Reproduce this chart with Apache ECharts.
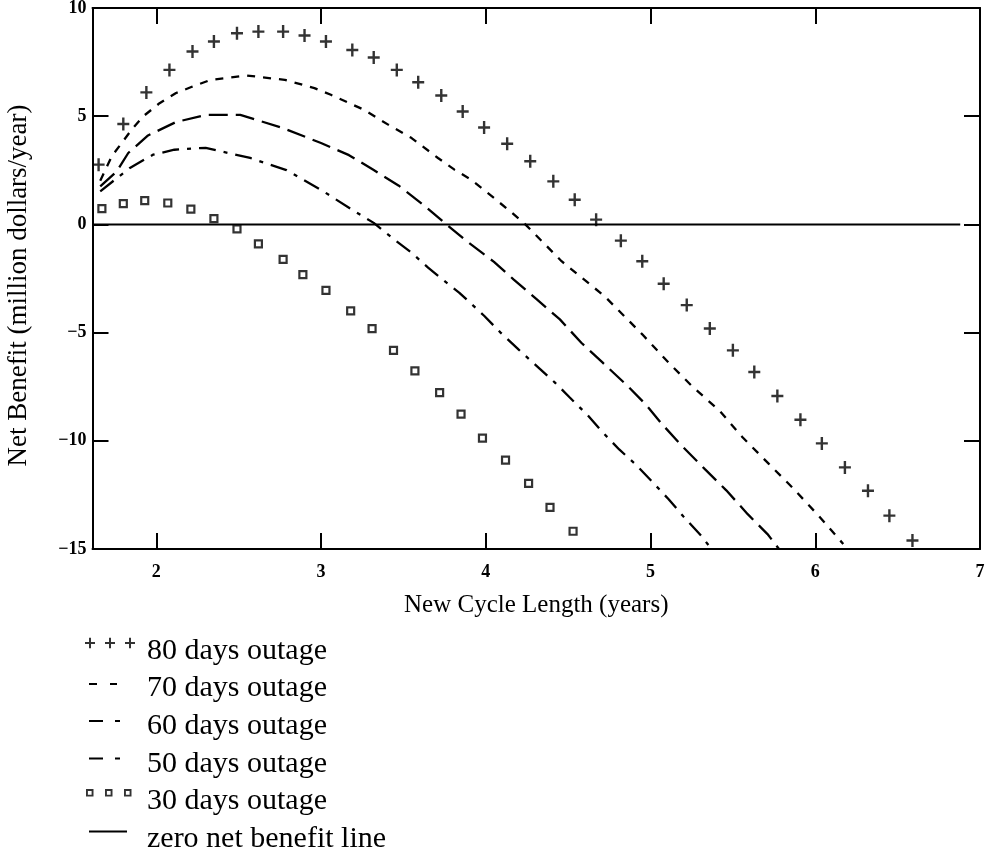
<!DOCTYPE html>
<html>
<head>
<meta charset="utf-8">
<script src="https://cdn.jsdelivr.net/npm/echarts@6/dist/echarts.min.js"></script>
<style>
html,body{margin:0;padding:0;background:#fff;}
#chart{width:985px;height:850px;}
</style>
</head>
<body>
<div id="chart"></div>
<script>
// ---- data ----
const xTickValues = [2, 3, 4, 5, 6, 7];
const yTickStep = 5;

const x80 = [1.65,1.80,1.94,2.08,2.22,2.35,2.49,2.62,2.77,2.90,3.03,3.19,3.32,3.46,3.59,3.73,3.86,3.99,4.13,4.27,4.41,4.54,4.67,4.82,4.95,5.08,5.22,5.36,5.50,5.63,5.77,5.91,6.04,6.18,6.32,6.45,6.59];
const y80 = [2.76,4.64,6.10,7.14,7.99,8.45,8.83,8.91,8.91,8.73,8.45,8.06,7.71,7.14,6.57,5.96,5.22,4.48,3.73,2.92,1.99,1.14,0.22,-0.75,-1.70,-2.74,-3.73,-4.81,-5.82,-6.82,-7.93,-9.03,-10.12,-11.23,-12.31,-13.46,-14.61];

const x70 = [1.66,1.73,1.79,1.85,1.92,2.02,2.12,2.22,2.33,2.55,2.78,2.96,3.06,3.26,3.41,3.55,3.71,3.81,3.91,4.05,4.16,4.24,4.34,4.46,4.56,4.72,4.95,5.11,5.25,5.42,5.56,5.72,5.86,6.02,6.17];
const y70 = [2.02,3.15,3.76,4.37,4.99,5.60,6.07,6.37,6.68,6.88,6.68,6.30,5.99,5.30,4.60,3.99,3.07,2.53,2.07,1.22,0.53,0.00,-0.77,-1.70,-2.32,-3.31,-5.08,-6.39,-7.46,-8.62,-9.85,-11.08,-12.15,-13.46,-14.77];

const x60 = [1.66,1.76,1.83,1.95,2.12,2.30,2.51,2.77,3.00,3.17,3.32,3.47,3.62,3.75,3.89,4.05,4.17,4.31,4.45,4.58,4.71,4.86,4.97,5.07,5.20,5.33,5.46,5.59,5.71,5.78];
const y60 = [1.76,2.45,3.30,4.11,4.73,5.06,5.06,4.45,3.76,3.20,2.51,1.80,0.91,0.07,-0.81,-1.73,-2.55,-3.47,-4.39,-5.47,-6.39,-7.46,-8.31,-9.23,-10.31,-11.31,-12.29,-13.39,-14.31,-15.00];

const x50 = [1.66,1.84,1.98,2.11,2.30,2.57,2.79,3.01,3.20,3.32,3.44,3.55,3.65,3.77,3.84,3.99,4.09,4.20,4.30,4.42,4.51,4.62,4.70,4.81,4.91,5.02,5.11,5.20,5.31,5.37];
const y50 = [1.53,2.61,3.22,3.45,3.54,3.07,2.51,1.55,0.62,0.07,-0.67,-1.31,-2.00,-2.74,-3.16,-4.22,-5.00,-5.79,-6.48,-7.31,-8.00,-8.83,-9.53,-10.40,-11.09,-11.97,-12.70,-13.50,-14.41,-15.00];

const x30 = [1.67,1.80,1.93,2.07,2.21,2.35,2.49,2.62,2.77,2.89,3.03,3.18,3.31,3.44,3.57,3.72,3.85,3.98,4.12,4.26,4.39,4.53];
const y30 = [0.73,0.96,1.10,0.99,0.71,0.27,-0.21,-0.90,-1.62,-2.32,-3.05,-4.00,-4.82,-5.82,-6.77,-7.77,-8.77,-9.88,-10.89,-11.97,-13.08,-14.18];

const xZero = [1.613, 6.88];
const yZero = [0, 0];

const seriesNames = ['80 days outage','70 days outage','60 days outage','50 days outage','30 days outage','zero net benefit line'];
const xTitle = 'New Cycle Length (years)';
const yTitle = 'Net Benefit (million dollars/year)';

// ---- helpers ----
function zip(xs, ys){ return xs.map((x,i)=>[x, ys[i]]); }
function r(x1,y1,x2,y2){ return `M${x1},${y1}L${x2},${y1}L${x2},${y2}L${x1},${y2}Z`; }
function rRev(x1,y1,x2,y2){ return `M${x1},${y1}L${x1},${y2}L${x2},${y2}L${x2},${y1}Z`; }
const ANCH = 'M0,0M57,27';
function plusIcon(){
  let s = ANCH;
  [5,25,45].forEach(c=>{ s += r(c-1,0.3,c+1,10.7) + r(c-5,4.5,c+5,6.5); });
  return 'path://' + s;
}
function sqIcon(){
  let s = ANCH;
  [1,20,39].forEach(x=>{ s += r(x,1.2,x+7.5,8.7) + rRev(x+1.9,3.1,x+5.6,6.8); });
  return 'path://' + s;
}
const icons = [
  plusIcon(),
  'path://' + ANCH + r(4,7.9,12,9.9) + r(25,7.9,32,9.9),
  'path://' + ANCH + r(4,7.3,18,9.3) + r(30,7.3,35,9.3),
  'path://' + ANCH + r(4,7.3,18,9.3) + r(30,7.3,35,9.3),
  sqIcon(),
  'path://' + ANCH + r(4,5,42,7)
];

const SERIF = '"Liberation Serif", "Times New Roman", serif';
const XMIN = 1.613, XMAX = 7;
const axisLineStyle = {color:'#000', width:2};

const chart = echarts.init(document.getElementById('chart'), null, {renderer:'canvas'});
const option = {
  animation: false,
  backgroundColor: '#fff',
  grid: {left: 92.5, right: 5, top: 8, bottom: 301, containLabel: false, outerBoundsMode: 'none'},
  legend: {
    orient: 'vertical', left: 85, top: 636, height: 300, padding: 0,
    itemWidth: 57, itemHeight: 27, itemGap: 7.6,
    selectedMode: false,
    itemStyle: {color:'#000', borderWidth: 0},
    textStyle: {fontFamily: SERIF, fontSize: 30, lineHeight: 30, color: '#000'},
    data: seriesNames.map((n,i)=>({name:n, icon: icons[i]}))
  },
  xAxis: [
    {
      type: 'value', position: 'bottom', min: XMIN, max: XMAX,
      name: xTitle, nameLocation: 'middle', nameGap: 44,
      nameTextStyle: {fontFamily: SERIF, fontSize: 25, color: '#000'},
      axisLine: {show: true, onZero: false, lineStyle: axisLineStyle},
      axisTick: {show: true, inside: true, length: 16, lineStyle: axisLineStyle, customValues: xTickValues.slice(0,5)},
      axisLabel: {show: true, margin: 14, customValues: xTickValues, fontFamily: SERIF, fontWeight: 'bold', fontSize: 18, color: '#000'},
      splitLine: {show: false}
    },
    {
      type: 'value', position: 'top', min: XMIN, max: XMAX,
      axisLine: {show: true, onZero: false, lineStyle: axisLineStyle},
      axisTick: {show: true, inside: true, length: 16, lineStyle: axisLineStyle, customValues: xTickValues.slice(0,5)},
      axisLabel: {show: false},
      splitLine: {show: false}
    }
  ],
  yAxis: [
    {
      type: 'value', position: 'left', min: -15, max: 10, interval: yTickStep,
      name: yTitle, nameLocation: 'middle', nameGap: 60, nameRotate: 90,
      nameTextStyle: {fontFamily: SERIF, fontSize: 27, color: '#000', padding: [0, 14, 0, 0]},
      axisLine: {show: true, onZero: false, lineStyle: axisLineStyle},
      axisTick: {show: true, inside: true, length: 16, lineStyle: axisLineStyle},
      axisLabel: {show: true, margin: 6, fontFamily: SERIF, fontWeight: 'bold', fontSize: 18, color: '#000',
        formatter: v => String(v).replace('-', '\u2212')},
      splitLine: {show: false}
    },
    {
      type: 'value', position: 'right', min: -15, max: 10, interval: yTickStep,
      axisLine: {show: true, onZero: false, lineStyle: axisLineStyle},
      axisTick: {show: true, inside: true, length: 16, lineStyle: axisLineStyle},
      axisLabel: {show: false},
      splitLine: {show: false}
    }
  ],
  series: [
    {
      name: seriesNames[0], type: 'scatter', xAxisIndex: 0, yAxisIndex: 0,
      data: zip(x80, y80),
      symbol: 'path://M4.8,0L7.2,0L7.2,13L4.8,13Z M0,5.3L12,5.3L12,7.7L0,7.7Z',
      symbolSize: [12, 13], symbolKeepAspect: false,
      itemStyle: {color: '#000'}
    },
    {
      name: seriesNames[1], type: 'line', data: zip(x70, y70), symbol: 'none', color: '#000',
      lineStyle: {color: '#000', width: 2.3, type: [8, 8], cap: 'butt'}
    },
    {
      name: seriesNames[2], type: 'line', data: zip(x60, y60), symbol: 'none', color: '#000',
      lineStyle: {color: '#000', width: 2.3, type: [19, 8], cap: 'butt'}
    },
    {
      name: seriesNames[3], type: 'line', data: zip(x50, y50), symbol: 'none', color: '#000',
      lineStyle: {color: '#000', width: 2.3, type: [17, 8, 4, 8], cap: 'butt'}
    },
    {
      name: seriesNames[4], type: 'scatter', data: zip(x30, y30),
      symbol: 'rect', symbolSize: 7,
      itemStyle: {color: '#fff', borderColor: '#000', borderWidth: 2.2}
    },
    {
      name: seriesNames[5], type: 'line', data: zip(xZero, yZero), symbol: 'none', color: '#000',
      lineStyle: {color: '#000', width: 2}, z: 1
    }
  ]
};
chart.setOption(option);
</script>
</body>
</html>
